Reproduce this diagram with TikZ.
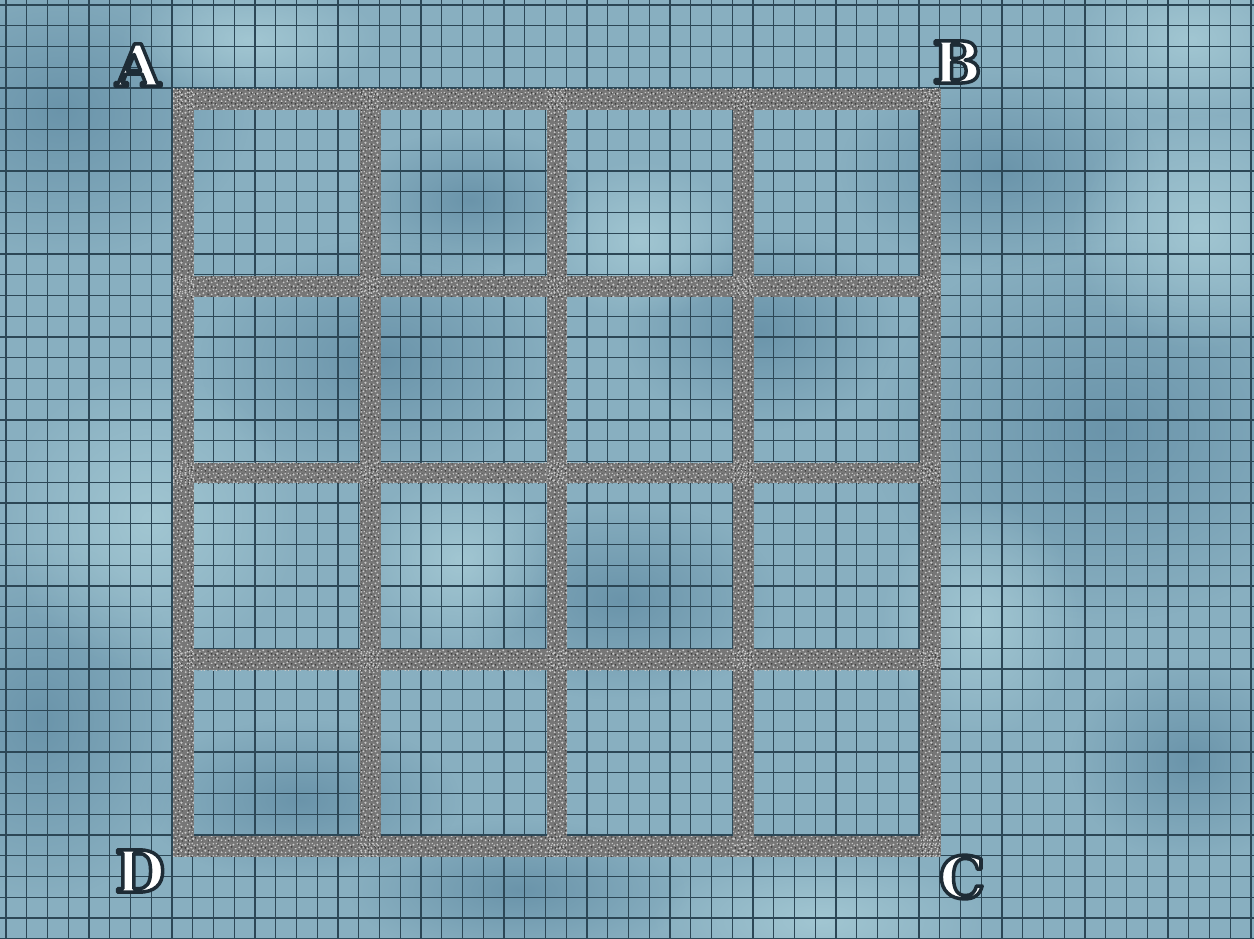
\documentclass[tikz,border=0pt]{standalone}
\usepackage{fontspec}
\newfontfamily\letterfont{DejaVu Serif}
\usetikzlibrary{patterns,fadings}
\definecolor{water}{HTML}{88AFC0}
\definecolor{waterdark}{HTML}{5E89A1}
\definecolor{waterlight}{HTML}{AACED8}
\definecolor{gridline}{HTML}{2C4756}
\definecolor{stone}{HTML}{777777}
\definecolor{stonelight}{HTML}{CACACA}
\definecolor{stonedark}{HTML}{3A3A3A}
\definecolor{halo}{HTML}{1E2C36}
\tikzfading[name=soft, inner color=transparent!0, outer color=transparent!100]
\pgfdeclarepatternformonly{specklelight}{\pgfpointorigin}{\pgfpoint{7pt}{7pt}}{\pgfpoint{7pt}{7pt}}{%
  \pgfpathcircle{\pgfpoint{1pt}{1.1pt}}{0.6pt}
  \pgfpathcircle{\pgfpoint{3.4pt}{0.9pt}}{0.5pt}
  \pgfpathcircle{\pgfpoint{5.6pt}{2.0pt}}{0.7pt}
  \pgfpathcircle{\pgfpoint{2.2pt}{3.3pt}}{0.55pt}
  \pgfpathcircle{\pgfpoint{4.4pt}{4.0pt}}{0.6pt}
  \pgfpathcircle{\pgfpoint{6.2pt}{5.2pt}}{0.5pt}
  \pgfpathcircle{\pgfpoint{0.9pt}{5.6pt}}{0.65pt}
  \pgfpathcircle{\pgfpoint{3.2pt}{6.1pt}}{0.5pt}
  \pgfpathcircle{\pgfpoint{5.0pt}{6.3pt}}{0.45pt}
  \pgfusepath{fill}
}
\pgfdeclarepatternformonly{speckledark}{\pgfpointorigin}{\pgfpoint{5.5pt}{5.5pt}}{\pgfpoint{5.5pt}{5.5pt}}{%
  \pgfpathcircle{\pgfpoint{0.8pt}{2.4pt}}{0.5pt}
  \pgfpathcircle{\pgfpoint{2.7pt}{0.7pt}}{0.45pt}
  \pgfpathcircle{\pgfpoint{4.5pt}{3.0pt}}{0.55pt}
  \pgfpathcircle{\pgfpoint{2.4pt}{4.6pt}}{0.45pt}
  \pgfpathcircle{\pgfpoint{4.8pt}{0.6pt}}{0.35pt}
  \pgfusepath{fill}
}
\tikzset{
  cloud/.style={fill=waterdark, path fading=soft, fill opacity=0.7},
  bright/.style={fill=waterlight, path fading=soft, fill opacity=0.75},
  gridln/.style={draw=gridline, line width=0.6pt},
  wall/.style={fill=stone},
  wallspeckA/.style={pattern=specklelight, pattern color=stonelight},
  wallspeckB/.style={pattern=speckledark, pattern color=stonedark},
  letter/.style={font=\letterfont\bfseries\fontsize{33}{35}\selectfont, inner sep=0pt},
}
\newcommand{\outl}[1]{\special{pdf:literal direct q 2 Tr 2.0 w 1 j 0.118 0.173 0.212 RG 1 1 1 rg}#1\special{pdf:literal direct Q}}
\begin{document}
\begin{tikzpicture}[x=0.02cm,y=-0.02cm]
\useasboundingbox (0,0) rectangle (1254,939);
% water background
\fill[water] (0,0) rectangle (1254,939);
\begin{scope}
\clip (0,0) rectangle (1254,939);
\fill[cloud] (60,110) ellipse (190 and 150);
\fill[cloud] (380,360) ellipse (180 and 120);
\fill[cloud] (470,200) ellipse (120 and 70);
\fill[cloud] (1110,430) ellipse (240 and 190);
\fill[cloud] (1000,170) ellipse (160 and 100);
\fill[cloud] (40,720) ellipse (150 and 180);
\fill[cloud] (620,600) ellipse (160 and 100);
\fill[cloud] (760,330) ellipse (140 and 100);
\fill[cloud] (300,800) ellipse (160 and 80);
\fill[cloud] (1190,760) ellipse (120 and 100);
\fill[cloud] (520,890) ellipse (170 and 70);
\fill[bright] (1200,230) ellipse (130 and 120);
\fill[bright] (150,520) ellipse (150 and 150);
\fill[bright] (980,620) ellipse (100 and 120);
\fill[bright] (820,920) ellipse (170 and 70);
\fill[bright] (1190,40) ellipse (120 and 80);
\fill[bright] (640,240) ellipse (100 and 80);
\fill[bright] (460,560) ellipse (100 and 90);
\fill[bright] (250,40) ellipse (130 and 60);
\end{scope}
% fine grid
\foreach \k in {0,...,60}{
  \draw[gridln] ({6+\k*20.75},0) -- ({6+\k*20.75},939);
}
\foreach \k in {0,...,45}{
  \draw[gridln] (0,{5+\k*20.75}) -- (1254,{5+\k*20.75});
}
% stone walls
\def\xo{173}\def\yo{89}\def\s{20.75}
\foreach \k in {0,...,4}{
  \path[wall] ({\xo+9*\k*\s},\yo) rectangle ({\xo+(9*\k+1)*\s},{\yo+37*\s});
  \path[wall] (\xo,{\yo+9*\k*\s}) rectangle ({\xo+37*\s},{\yo+(9*\k+1)*\s});
}
\foreach \k in {0,...,4}{
  \path[wallspeckB] ({\xo+9*\k*\s},\yo) rectangle ({\xo+(9*\k+1)*\s},{\yo+37*\s});
  \path[wallspeckB] (\xo,{\yo+9*\k*\s}) rectangle ({\xo+37*\s},{\yo+(9*\k+1)*\s});
  \path[wallspeckA] ({\xo+9*\k*\s},\yo) rectangle ({\xo+(9*\k+1)*\s},{\yo+37*\s});
  \path[wallspeckA] (\xo,{\yo+9*\k*\s}) rectangle ({\xo+37*\s},{\yo+(9*\k+1)*\s});
}
% corner letters
\node[letter] (LA) at (138,65) {\outl{A}};
\node[letter] (LB) at (957,62) {\outl{B}};
\node[letter] (LC) at (962,877) {\outl{C}};
\node[letter] (LD) at (140,871) {\outl{D}};
\end{tikzpicture}
\end{document}
